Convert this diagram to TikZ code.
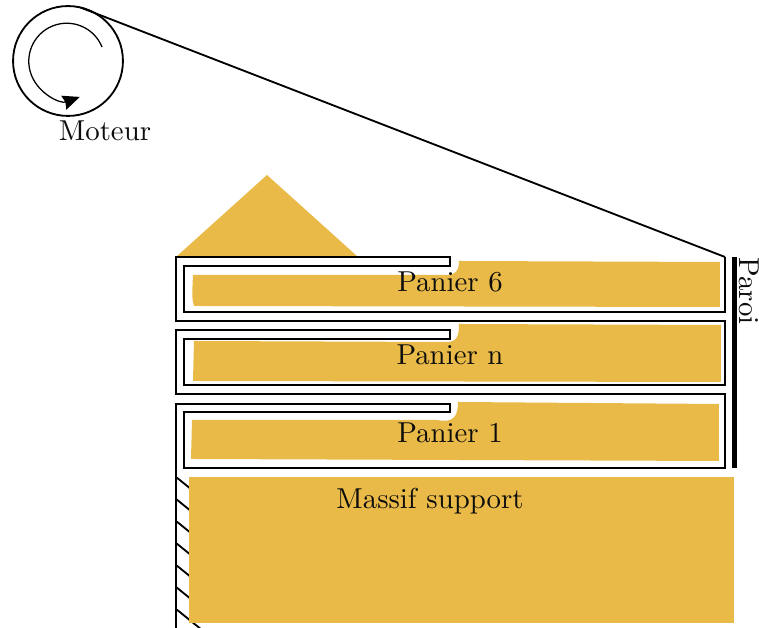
\documentclass[tikz,border=0pt]{standalone}
\usetikzlibrary{arrows.meta}
\definecolor{sable}{HTML}{E9BA47}
\tikzset{
	tas/.style={fill=sable,draw=none},
	trait/.style={line width=0.65pt,line join=miter},
	hachure/.style={line width=0.65pt},
	etiquette/.style={inner sep=0pt,text=black!95,font=\fontsize{10.2}{12}\selectfont},
}

\begin{document}
\begin{tikzpicture}[x=0.354pt,y=-0.354pt]
	\useasboundingbox (0,0) rectangle (759,628);

	% hachures sous le massif
	\foreach \y in {477,499,521,543,565,587,609}
		\draw[hachure] (176,\y) -- ++(26,21);

	% sable
	\fill[tas] (176,257) -- (267,175) -- (358,257) -- cycle;
	\fill[tas] (193,275) -- (446,275) .. controls (456,275) and (459,270) .. (459,261) -- (720,262) -- (720,307) -- (194,306) .. controls (192,300) and (192,295) .. cycle;
	\fill[tas] (194,341) -- (446,342) .. controls (456,342) and (459,338) .. (459,324) -- (721,325) -- (721,382) -- (193,381) -- cycle;
	\fill[tas] (192,420) -- (437,420) .. controls (452,423) and (458,418) .. (458,402) -- (719,404) -- (719,461) -- (191,459) -- cycle;
	\fill[tas] (189,477) rectangle (734,623);

	% moteur
	\node[circle,draw,trait,minimum size=38.9pt,inner sep=0pt,outer sep=0pt] (moteur) at (68,61) {};
	\draw[line width=0.45pt,-{Stealth[length=6pt,width=5.2pt,inset=0.6pt]}] (102,47) arc[start angle=22,end angle=290,radius=13.45pt];
	\node[etiquette] (moteurtxt) at (105,131) {Moteur};

	% courroie et paniers
	\coordinate (belt) at (725,257);
	\draw[trait] (moteur.77) -- (belt);
	\draw[trait] (belt) -- (725,312) -- (184,312) -- (184,266) -- (450,266) -- (450,257) -- (176,257) -- (176,321)
		-- (725,321) -- (725,385) -- (184,385) -- (184,339) -- (450,339) -- (450,330) -- (176,330) -- (176,394)
		-- (725,394) -- (725,468) -- (184,468) -- (184,412) -- (450,412) -- (450,404) -- (176,404) -- (176,628);

	% paroi
	\coordinate (paroihaut) at (734.5,257);
	\coordinate (paroibas) at (734.5,468);
	\draw[line width=2pt] (paroihaut) -- (paroibas);

	\node[etiquette] (panier6) at (450,282) {Panier 6};
	\node[etiquette] (paniern) at (450,354.5) {Panier n};
	\node[etiquette] (panier1) at (450,433) {Panier 1};
	\node[etiquette] (massif) at (430,501) {Massif support};
	\node[etiquette,rotate=-90] (paroi) at (749,291) {Paroi};
\end{tikzpicture}
\end{document}
